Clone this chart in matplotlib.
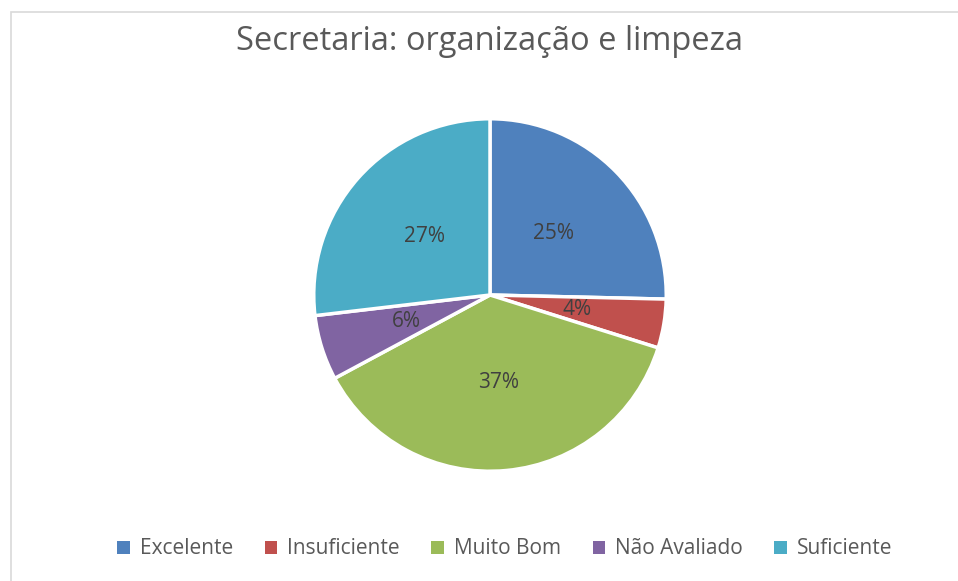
import matplotlib
matplotlib.use('agg')
import matplotlib.pyplot as plt
from matplotlib.patches import Rectangle, Patch

# Answer counts per rating
categories = ["Excelente", "Insuficiente", "Muito Bom", "Não Avaliado", "Suficiente"]
counts = [17, 3, 25, 4, 18]
colors = ["#4F81BD", "#C0504D", "#9BBB59", "#8064A2", "#4BACC6"]
title = "Secretaria: organização e limpeza"

plt.rcParams['font.family'] = ['Open Sans', 'DejaVu Sans']

W, H = 958, 581
fig = plt.figure(figsize=(W / 100, H / 100), dpi=100)
fig.patch.set_facecolor('white')

# light chart-area frame
fig.patches.append(Rectangle((10.5 / W, -0.05), 1.2, (H - 12.5) / H + 0.05,
                             transform=fig.transFigure, fill=False,
                             edgecolor='#D9D9D9', linewidth=1.2))

# pie area: center (490, 295) px, radius 178 px
cx, cy, r = 490, 295, 178
ax = fig.add_axes([(cx - r) / W, (H - cy - r) / H, 2 * r / W, 2 * r / H])
wedges, texts, autotexts = ax.pie(
    counts, colors=colors, startangle=90, counterclock=False,
    autopct='%.0f%%', pctdistance=0.5, radius=1,
    wedgeprops=dict(edgecolor='white', linewidth=2.5),
    textprops=dict(color='#404040', fontsize=15))
ax.set_xlim(-1.01, 1.01)
ax.set_ylim(-1.01, 1.01)
ax.set_aspect('equal')
ax.axis('off')

fig.text(cx / W, 1 - 41 / H, title, ha='center', va='center',
         fontsize=23.5, color='#595959')

handles = [Patch(facecolor=c, edgecolor='none') for c in colors]
fig.legend(handles, categories, loc='center', bbox_to_anchor=(505 / W, 1 - 549 / H),
           ncol=5, frameon=False, fontsize=15, handlelength=0.6, handleheight=0.6,
           handletextpad=0.5, columnspacing=1.5, labelcolor='#595959')

plt.savefig('out.png', dpi=100)
plt.close()
